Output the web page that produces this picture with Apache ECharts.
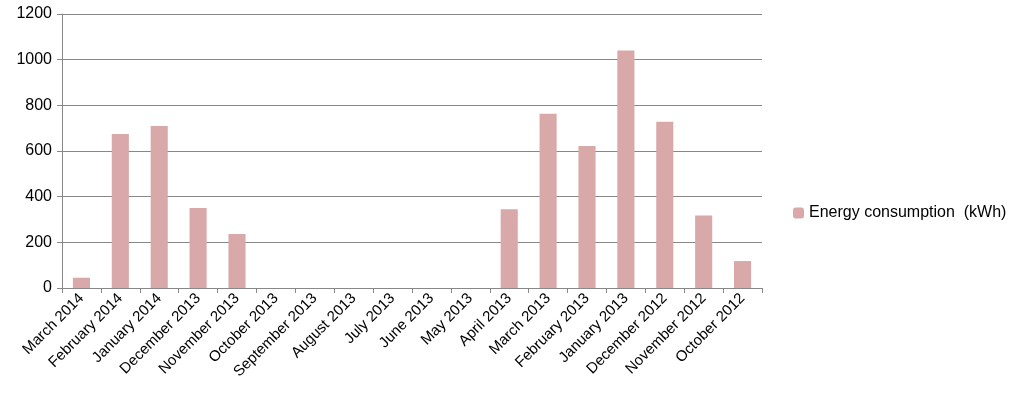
<!DOCTYPE html>
<html>
<head>
<meta charset="utf-8">
<script src="https://cdn.jsdelivr.net/npm/echarts@6/dist/echarts.min.js"></script>
<style>html,body{margin:0;padding:0;background:#fff}#chart{width:1024px;height:414px}</style>
</head>
<body>
<div id="chart"></div>
<script>
var months = ['March 2014','February 2014','January 2014','December 2013','November 2013','October 2013','September 2013','August 2013','July 2013','June 2013','May 2013','April 2013','March 2013','February 2013','January 2013','December 2012','November 2012','October 2012'];
var energy = [45,675,710,350,237,0,0,0,0,0,0,345,763,622,1040,728,318,118];
var seriesName = 'Energy consumption  (kWh)';

var chart = echarts.init(document.getElementById('chart'));
chart.setOption({
	animation:false,
	textStyle:{fontFamily:'Liberation Sans'},
	grid:{left:62,right:262,top:14,bottom:126},
	legend:{
		orient:'vertical',left:788,top:200,
		itemWidth:11,itemHeight:11,itemGap:8,
		textStyle:{fontSize:16,color:'#000'},
		data:[seriesName]
	},
	xAxis:{
		type:'category',data:months,
		axisTick:{show:true,length:5,lineStyle:{color:'#888'}},
		axisLine:{lineStyle:{color:'#888'}},
		axisLabel:{rotate:45,interval:0,fontSize:15,color:'#000',margin:8}
	},
	yAxis:{
		type:'value',min:0,max:1200,interval:200,
		axisLine:{show:true,lineStyle:{color:'#888'}},
		axisTick:{show:true,length:5,lineStyle:{color:'#888'}},
		splitLine:{lineStyle:{color:'#888'}},
		axisLabel:{fontSize:16,color:'#000',margin:10,formatter:function(v){return String(v);}}
	},
	series:[{
		name:seriesName,type:'bar',data:energy,barWidth:'44%',
		itemStyle:{color:'#d9a9a9'}
	}]
});
</script>
</body>
</html>
